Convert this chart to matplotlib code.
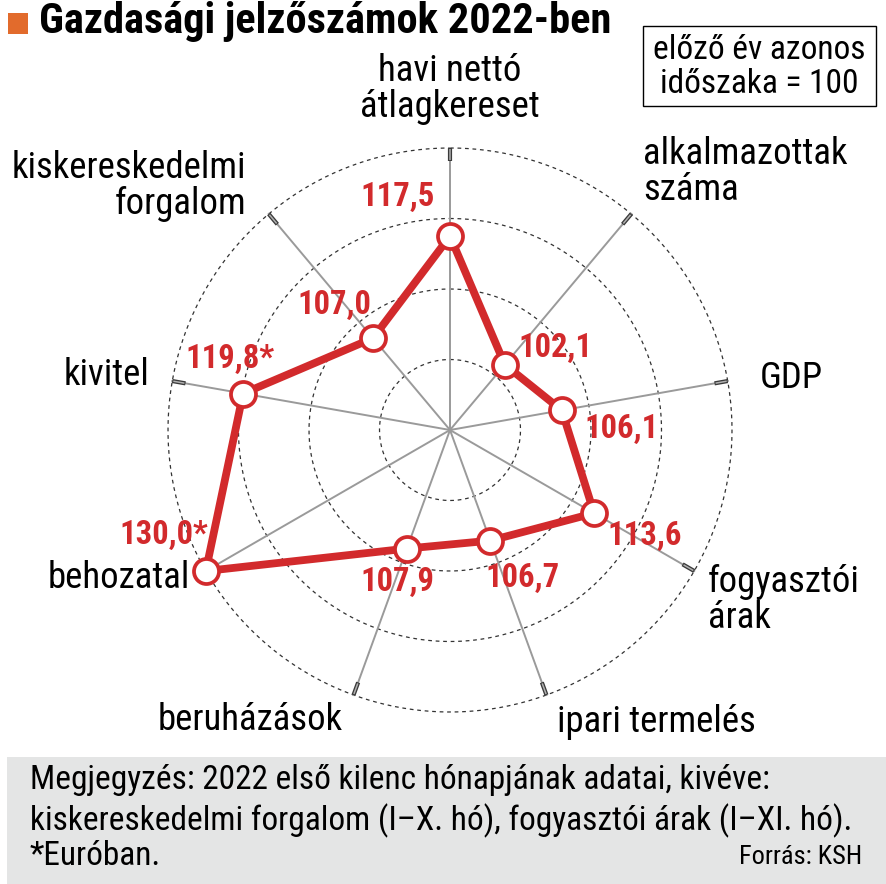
import numpy as np
import matplotlib
matplotlib.use('Agg')
import matplotlib.pyplot as plt
from matplotlib import font_manager
from matplotlib.patches import Rectangle

# ---------------- data ----------------
categories = ["havi nettó\nátlagkereset", "alkalmazottak\nszáma", "GDP",
              "fogyasztói\nárak", "ipari termelés", "beruházások",
              "behozatal", "kivitel", "kiskereskedelmi\nforgalom"]
values = [117.5, 102.1, 106.1, 113.6, 106.7, 107.9, 130.0, 119.8, 107.0]
value_labels = ["117,5", "102,1", "106,1", "113,6", "106,7", "107,9",
                "130,0*", "119,8*", "107,0"]
ring_values = [100, 110, 120, 130]
r_min = 90

title = "Gazdasági jelzőszámok 2022-ben"
box_text = "előző év azonos\nidőszaka = 100"
note_lines = ["Megjegyzés: 2022 első kilenc hónapjának adatai, kivéve:",
              "kiskereskedelmi forgalom (I–X. hó), fogyasztói árak (I–XI. hó).",
              "*Euróban."]
source = "Forrás: KSH"

# ---------------- fonts ----------------
names = {f.name for f in font_manager.fontManager.ttflist}
font = "Roboto"
for cand in ["Roboto Condensed", "Liberation Sans Narrow", "Roboto"]:
    if cand in names:
        font = cand
        break
condensed = font != "Roboto"
plt.rcParams['font.family'] = [font, "DejaVu Sans"]

RED = "#d22a2c"
W, H = 886, 884

fig = plt.figure(figsize=(W / 100, H / 100), dpi=100)


def fx(x):
    return x / W


def fy(y):
    return 1 - y / H


# polar axes: centre (450,430) px, radius 282 px
cx, cy, R = 450, 430, 282
ax = fig.add_axes([fx(cx - R), fy(cy + R), 2 * R / W, 2 * R / H], projection='polar')
ax.set_theta_offset(np.pi / 2)
ax.set_theta_direction(-1)
ax.set_ylim(r_min, ring_values[-1])
ax.axis('off')

n = len(values)
thetas = np.deg2rad(np.arange(n) * 360 / n)

# rings
tt = np.linspace(0, 2 * np.pi, 400)
for rv in ring_values:
    ax.plot(tt, np.full_like(tt, rv), color="#333333", lw=0.9,
            dashes=(3, 3), clip_on=False, zorder=1)

# spokes + end ticks
for th in thetas:
    ax.plot([th, th], [r_min, ring_values[-1]], color="#9a9a9a", lw=1.4,
            clip_on=False, zorder=1.5)
    ax.plot([th, th], [ring_values[-1] - 1.9, ring_values[-1]], color="#3a3a3a",
            lw=3.0, solid_capstyle='butt', clip_on=False, zorder=1.6)
    ax.plot([th, th], [ring_values[-1] - 1.75, ring_values[-1] - 0.15], color="#b0b0b0",
            lw=1.1, solid_capstyle='butt', clip_on=False, zorder=1.7)

# data polygon
ax.plot(np.append(thetas, thetas[0]), values + values[:1], color=RED, lw=5.6,
        solid_joinstyle='miter', clip_on=False, zorder=3)
ax.plot(thetas, values, 'o', ms=18, mfc='white', mec=RED, mew=2.7,
        clip_on=False, zorder=4)

# value labels (pixel offsets from points)
offsets = [(-52, 39), (51, 17), (60, -19), (51, -23), (32, -37),
           (-9, -33), (-42, 36), (-13, 35), (-39, 33)]
vfs = 23.5 if condensed else 19
for th, v, lbl, (dx, dy) in zip(thetas, values, value_labels, offsets):
    ax.annotate(lbl, xy=(th, v), xytext=(dx, dy), textcoords='offset pixels',
                ha='center', va='center', color=RED, fontsize=vfs,
                fontweight='bold', zorder=5, annotation_clip=False)

# category labels (figure pixel positions)
cfs = 26.5 if condensed else 23.5
cat_pos = [(450, 89, 'center'), (643, 172, 'left'), (760, 378, 'left'),
           (708, 600, 'left'), (557, 722, 'left'), (158, 720, 'left'),
           (190, 578, 'right'), (150, 375, 'right'), (246, 186, 'right')]
for lbl, (x, y, ha) in zip(categories, cat_pos):
    fig.text(fx(x), fy(y), lbl, ha=ha, va='center', fontsize=cfs,
             linespacing=1.0, multialignment=ha, color='black')

# title
fig.patches.append(Rectangle((fx(8), fy(34)), 20 / W, 21 / H, transform=fig.transFigure,
                             facecolor="#e26b2c", edgecolor='none'))
fig.text(fx(39), fy(22), title, ha='left', va='center',
         fontsize=30.5 if condensed else 26, fontweight='bold')

# top-right box
fig.patches.append(Rectangle((fx(643), fy(106)), (876 - 643) / W, 80 / H,
                             transform=fig.transFigure, facecolor='white',
                             edgecolor='black', lw=1.0))
fig.text(fx(759.5), fy(67), box_text, ha='center', va='center',
         fontsize=cfs - 2.5, linespacing=1.1)

# footer
fig.patches.append(Rectangle((fx(7), 0), (W - 7) / W, (H - 757) / H,
                             transform=fig.transFigure, facecolor="#e4e5e5",
                             edgecolor='none'))
for line, y in zip(note_lines, [780, 821, 856]):
    fig.text(fx(30), fy(y), line, ha='left', va='center',
             fontsize=24 if condensed else 19.5)
fig.text(fx(862), fy(857), source, ha='right', va='center',
         fontsize=19 if condensed else 16)

fig.savefig("out.png", dpi=100)
